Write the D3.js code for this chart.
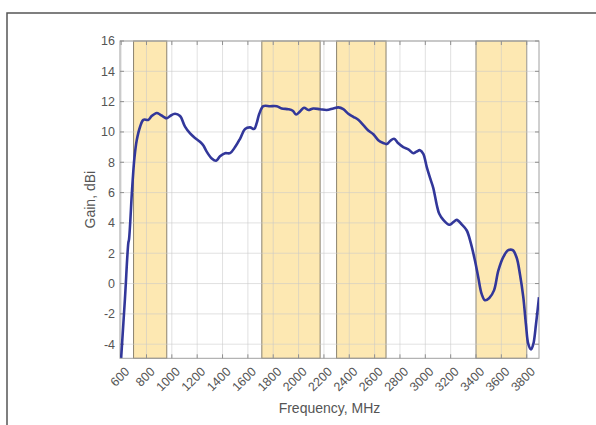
<!DOCTYPE html>
<html>
<head>
<meta charset="utf-8">
<script src="https://cdn.jsdelivr.net/npm/d3@7.9.0/dist/d3.min.js"></script>
<style>
  body { margin: 0; background: #fff; }
  svg { display: block; font-family: "Liberation Sans", Arial, sans-serif; }
</style>
</head>
<body>
<svg id="chart" width="596" height="425"></svg>
<script>
// measured gain curve
const freq = [600, 630, 657, 662, 684, 691, 705, 723, 749, 775, 815, 841, 881, 907, 935, 960,
  986, 1025, 1065, 1104, 1144, 1183, 1222, 1249, 1275, 1315, 1349, 1380, 1420, 1459, 1499,
  1538, 1578, 1617, 1650, 1670, 1690, 1722, 1775, 1828, 1867, 1919, 1954, 1980, 2011, 2043,
  2077, 2116, 2169, 2222, 2274, 2314, 2353, 2392, 2432, 2471, 2511, 2550, 2590, 2629, 2669,
  2696, 2722, 2753, 2787, 2826, 2866, 2905, 2930, 2958, 2984, 3011, 3040, 3063, 3090, 3110,
  3142, 3189, 3221, 3248, 3287, 3327, 3358, 3392, 3418, 3445, 3471, 3505, 3542, 3576, 3615,
  3655, 3690, 3721, 3747, 3773, 3794, 3813, 3834, 3852, 3873, 3897];
const gain = [-4.9, -1.0, 2.7, 2.9, 5.9, 6.8, 8.3, 9.45, 10.33, 10.8, 10.8, 11.05, 11.25, 11.15, 11.0, 10.9,
  11.05, 11.2, 11.05, 10.35, 9.9, 9.6, 9.35, 9.1, 8.7, 8.25, 8.1, 8.4, 8.6, 8.6, 9.0,
  9.55, 10.2, 10.3, 10.2, 10.6, 11.2, 11.7, 11.7, 11.7, 11.55, 11.5, 11.4, 11.15, 11.35, 11.6,
  11.45, 11.55, 11.5, 11.45, 11.55, 11.62, 11.5, 11.2, 11.0, 10.8, 10.45, 10.1, 9.85, 9.45, 9.27,
  9.2, 9.4, 9.55, 9.25, 9.0, 8.85, 8.6, 8.7, 8.8, 8.55, 7.7, 6.9, 6.3, 5.2, 4.6,
  4.2, 3.88, 4.05, 4.2, 3.9, 3.5, 2.7, 1.5, 0.4, -0.7, -1.1, -0.95, -0.45, 0.85, 1.75,
  2.2, 2.2, 1.7, 0.6, -0.9, -2.7, -4.0, -4.35, -4.0, -2.7, -0.9];

// highlighted frequency bands (MHz)
const bandStart = [698, 1710, 2300, 3400];
const bandEnd = [960, 2170, 2690, 3800];

const xTicks = d3.range(600, 3801, 200);
const yTicks = d3.range(-4, 17, 2);

const svg = d3.select('#chart');
const pLeft = 120, pRight = 539, pTop = 41, pBottom = 358.3;

const x = d3.scaleLinear().domain([591, 3897]).range([pLeft, pRight]);
const y = d3.scaleLinear().domain([-4.93, 16]).range([pBottom, pTop]);

// outer frame
svg.append('path')
  .attr('d', `M7,425 L7,13 L596,13`)
  .attr('fill', 'none')
  .attr('stroke', '#555')
  .attr('stroke-width', 1.5);

// bands
bandStart.forEach((b, i) => {
  svg.append('rect')
    .attr('x', x(b))
    .attr('y', pTop)
    .attr('width', x(bandEnd[i]) - x(b))
    .attr('height', pBottom - pTop)
    .attr('fill', '#fde8b2')
    .attr('stroke', '#8a8270')
    .attr('stroke-width', 1);
});

// grid
svg.append('g').selectAll('line').data(xTicks).join('line')
  .attr('x1', (d) => x(d)).attr('x2', (d) => x(d))
  .attr('y1', pTop).attr('y2', pBottom)
  .attr('stroke', '#c8c8c8').attr('stroke-opacity', 0.55);
svg.append('g').selectAll('line').data(yTicks).join('line')
  .attr('x1', pLeft).attr('x2', pRight)
  .attr('y1', (d) => y(d)).attr('y2', (d) => y(d))
  .attr('stroke', '#c8c8c8').attr('stroke-opacity', 0.55);

// box
svg.append('rect')
  .attr('x', pLeft).attr('y', pTop)
  .attr('width', pRight - pLeft).attr('height', pBottom - pTop)
  .attr('fill', 'none').attr('stroke', '#a0a0a0');

// inward tick marks on all sides
const tk = 4;
svg.append('g').selectAll('path').data(xTicks).join('path')
  .attr('d', (d) => `M${x(d)},${pBottom}v${-tk}M${x(d)},${pTop}v${tk}`)
  .attr('stroke', '#909090');
svg.append('g').selectAll('path').data(yTicks).join('path')
  .attr('d', (d) => `M${pLeft},${y(d)}h${tk}M${pRight},${y(d)}h${-tk}`)
  .attr('stroke', '#909090');

// tick labels
svg.append('g').selectAll('text').data(xTicks).join('text')
  .attr('transform', (d) => `translate(${x(d) + 6},${pBottom + 11}) rotate(-45)`)
  .attr('text-anchor', 'end')
  .attr('dy', '0.35em')
  .attr('font-size', 12.5)
  .attr('fill', '#555')
  .text((d) => d);

svg.append('g').selectAll('text').data(yTicks).join('text')
  .attr('x', pLeft - 5)
  .attr('y', (d) => y(d))
  .attr('dy', '0.35em')
  .attr('text-anchor', 'end')
  .attr('font-size', 12.5)
  .attr('fill', '#555')
  .text((d) => d);

// axis titles
svg.append('text')
  .attr('x', (pLeft + pRight) / 2)
  .attr('y', 413)
  .attr('text-anchor', 'middle')
  .attr('font-size', 14)
  .attr('fill', '#555')
  .text('Frequency, MHz');

svg.append('text')
  .attr('transform', `translate(95,${(pTop + pBottom) / 2}) rotate(-90)`)
  .attr('text-anchor', 'middle')
  .attr('font-size', 14)
  .attr('fill', '#555')
  .text('Gain, dBi');

// curve
svg.append('clipPath').attr('id', 'clip')
  .append('rect').attr('x', pLeft).attr('y', pTop)
  .attr('width', pRight - pLeft).attr('height', pBottom - pTop);

const line = d3.line()
  .x((d) => x(d[0]))
  .y((d) => y(d[1]))
  .curve(d3.curveCatmullRom);

svg.append('path')
  .datum(d3.zip(freq, gain))
  .attr('clip-path', 'url(#clip)')
  .attr('d', line)
  .attr('fill', 'none')
  .attr('stroke', '#32379a')
  .attr('stroke-width', 2.6)
  .attr('stroke-linejoin', 'round');
</script>
</body>
</html>
